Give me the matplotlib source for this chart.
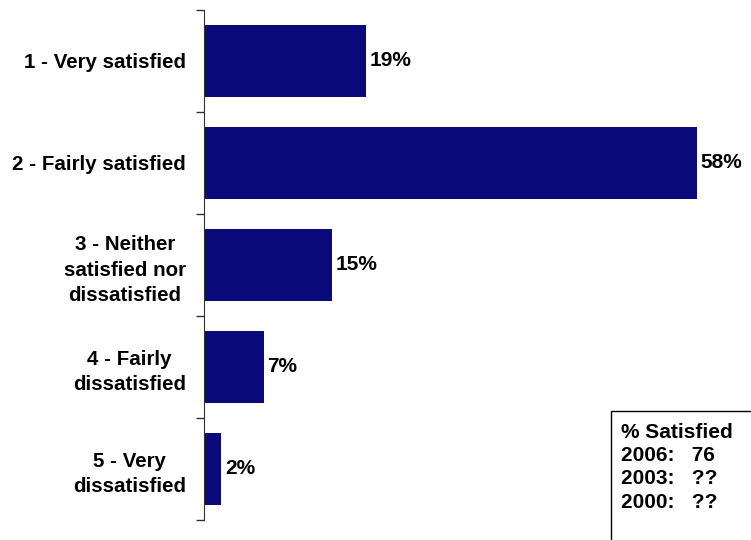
import matplotlib.pyplot as plt
from matplotlib.patches import Rectangle

plt.rcParams['font.family'] = ['Liberation Sans', 'DejaVu Sans']
plt.rcParams['font.weight'] = 'bold'

categories = ['1 - Very satisfied', '2 - Fairly satisfied',
              '3 - Neither\nsatisfied nor\ndissatisfied',
              '4 - Fairly\ndissatisfied', '5 - Very\ndissatisfied']
values = [19, 58, 15, 7, 2]
box_lines = ['% Satisfied', '2006:   76', '2003:   ??', '2000:   ??']

fig = plt.figure(figsize=(7.51, 5.40), dpi=100)
ax = fig.add_axes([204 / 751, 20 / 540, 547 / 751, 510 / 540])

pos = list(range(len(values)))
ax.barh(pos, values, height=0.71, color='#0a0a7a')
for p, v in zip(pos, values):
    ax.text(v + 0.45, p, f'{v}%', va='center', ha='left', fontsize=15, fontweight='bold')

ax.set_ylim(4.5, -0.5)
ax.set_xlim(0, 64.35)
ax.set_yticks(pos)
ax.set_yticklabels(categories, fontsize=14.8, fontweight='bold', multialignment='center', linespacing=1.42)
ax.tick_params(axis='y', length=0, pad=13)
ax.set_yticks([p - 0.5 for p in range(6)], minor=True)
ax.tick_params(axis='y', which='minor', length=6, width=1, color='#333333')
ax.set_xticks([])
for s in ['top', 'right', 'bottom']:
    ax.spines[s].set_visible(False)
ax.spines['left'].set_color('#333333')

fig.patches.append(Rectangle((611 / 751, -0.1), 0.3, (540 - 411) / 540 + 0.1,
                             transform=fig.transFigure, fill=False, edgecolor='black', lw=1))
for i, line in enumerate(box_lines):
    fig.text(621 / 751, 1 - (432 + 23.5 * i) / 540, line, fontsize=15, fontweight='bold',
             va='center', ha='left')

fig.savefig('out.png', dpi=100)
